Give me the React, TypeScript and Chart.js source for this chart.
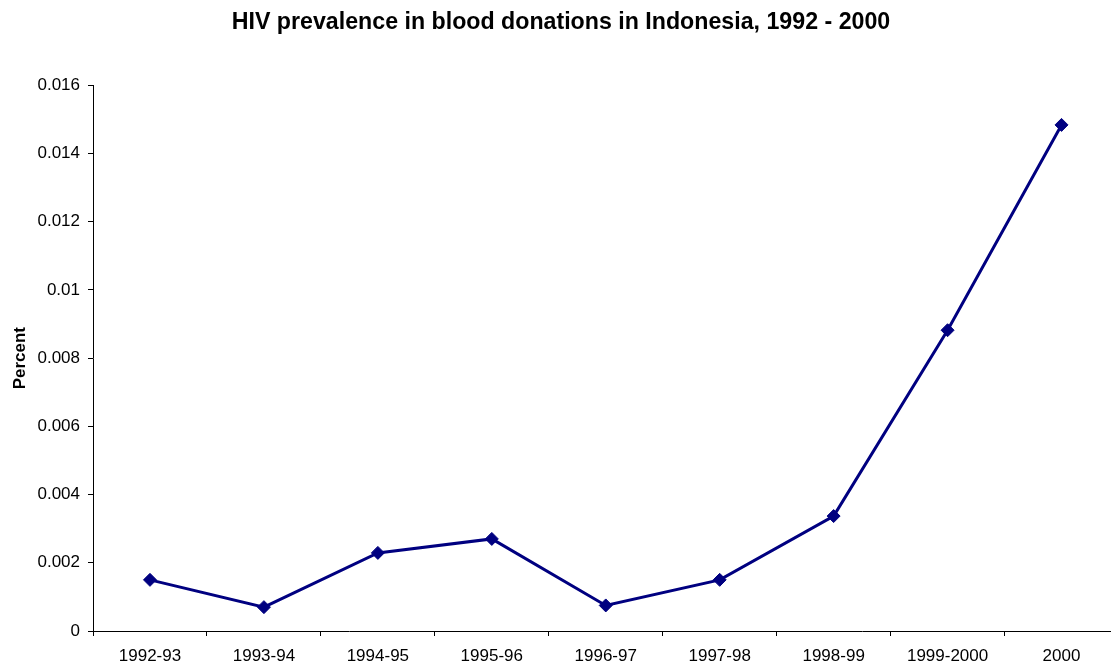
import React, { useEffect, useRef } from "react";
import { Chart, registerables } from "chart.js";

Chart.register(...registerables);

const categories = [
  "1992-93",
  "1993-94",
  "1994-95",
  "1995-96",
  "1996-97",
  "1997-98",
  "1998-99",
  "1999-2000",
  "2000",
];
const prevalence = [0.0015, 0.0007, 0.00229, 0.0027, 0.00075, 0.0015, 0.00337, 0.00882, 0.01484];
const chartTitle = "HIV prevalence in blood donations in Indonesia, 1992 - 2000";
const yTitle = "Percent";

const FONT = "'Liberation Sans', Arial, sans-serif";

export default function App() {
  const ref = useRef<HTMLCanvasElement | null>(null);

  useEffect(() => {
    if (!ref.current) return;
    const chart = new Chart(ref.current, {
      type: "line",
      data: {
        labels: categories,
        datasets: [
          {
            data: prevalence,
            borderColor: "#000080",
            backgroundColor: "#000080",
            borderWidth: 3,
            pointStyle: "rectRot",
            pointRadius: 6.5,
            pointBorderWidth: 1,
            pointBackgroundColor: "#000080",
            pointBorderColor: "#000080",
            tension: 0,
            fill: false,
          },
        ],
      },
      options: {
        animation: false,
        responsive: false,
        maintainAspectRatio: false,
        layout: { padding: { left: 0, right: 4, top: 0, bottom: 0 } },
        plugins: {
          legend: { display: false },
          tooltip: { enabled: false },
          title: {
            display: true,
            text: chartTitle,
            color: "#000",
            font: { family: FONT, size: 23.2, weight: "bold" },
            padding: { top: 9, bottom: 48.5 },
          },
        },
        scales: {
          x: {
            type: "category",
            offset: true,
            grid: {
              offset: true,
              drawOnChartArea: false,
              drawTicks: true,
              tickLength: 5,
              color: "#000",
            },
            border: { display: true, color: "#000", width: 1 },
            ticks: {
              color: "#000",
              font: { family: FONT, size: 17 },
              padding: 10,
              maxRotation: 0,
              autoSkip: false,
            },
            afterFit: (scale: any) => {
              scale.height = 35;
            },
          },
          y: {
            min: 0,
            max: 0.016,
            grid: {
              drawOnChartArea: false,
              drawTicks: true,
              tickLength: 5,
              color: "#000",
            },
            border: { display: true, color: "#000", width: 1 },
            ticks: {
              stepSize: 0.002,
              color: "#000",
              font: { family: FONT, size: 17 },
              padding: 8,
              callback: (v: any) => String(Number(Number(v).toFixed(3))),
            },
            title: {
              display: true,
              text: yTitle,
              color: "#000",
              font: { family: FONT, size: 17, weight: "bold" },
              padding: { top: 10, bottom: 0 },
            },
            afterFit: (scale: any) => {
              scale.width = 93;
            },
          },
        },
      },
    });
    return () => chart.destroy();
  }, []);

  return (
    <div
      style={{
        position: "fixed",
        left: 0,
        top: 0,
        width: 1111,
        height: 666,
        overflow: "hidden",
        background: "#fff",
      }}
    >
      <canvas ref={ref} width={1126} height={666} style={{ display: "block" }} />
    </div>
  );
}
